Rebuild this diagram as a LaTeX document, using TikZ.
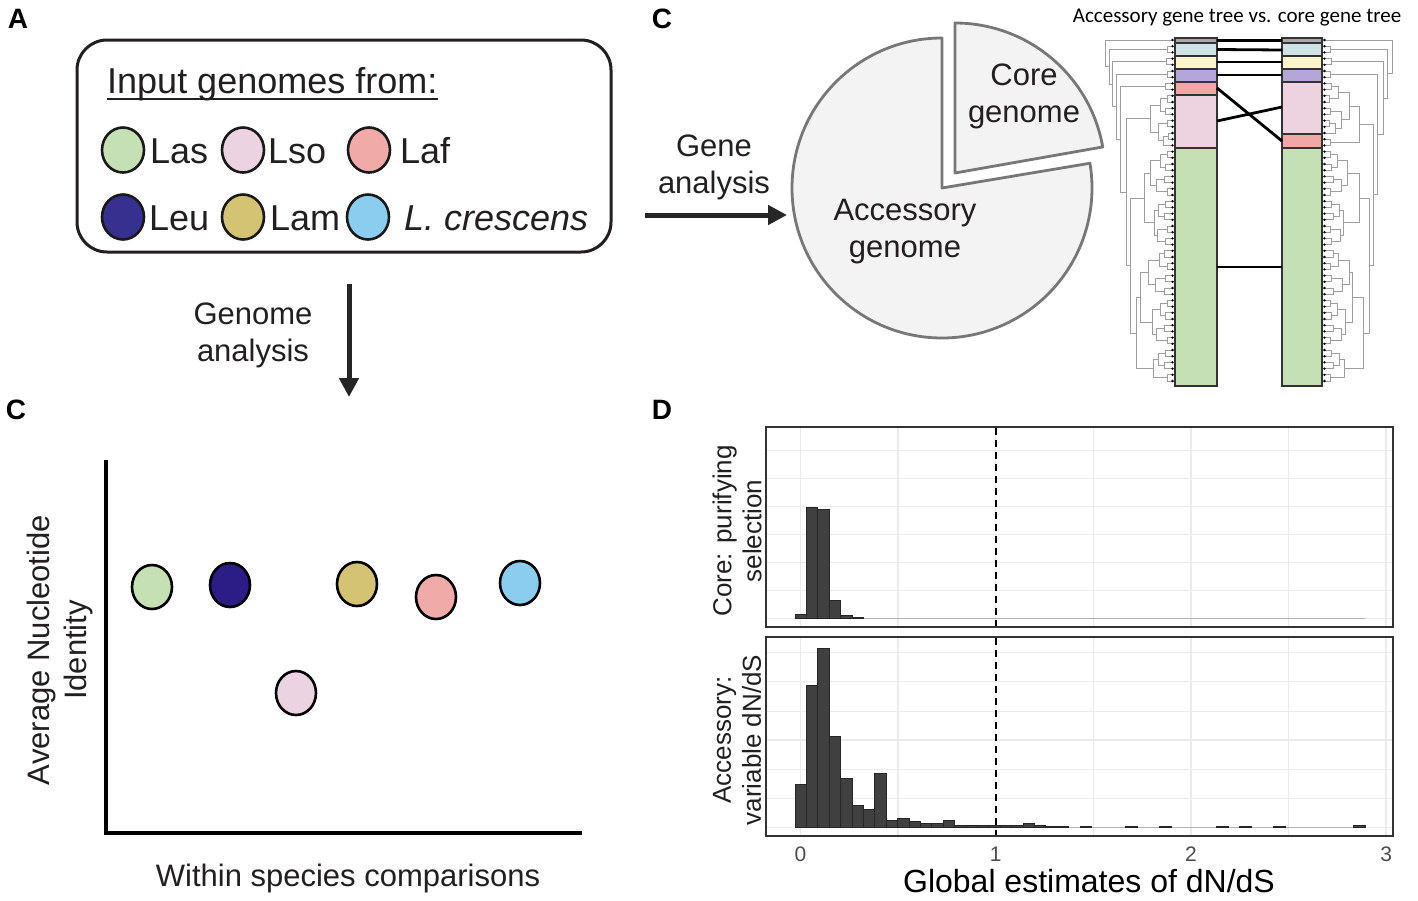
\documentclass[tikz,border=0pt]{standalone}
\usepackage{fontspec}
\setmainfont{Liberation Sans}
\newfontfamily\calfont{Carlito}
\usetikzlibrary{arrows.meta,shapes.geometric}
\definecolor{textc}{HTML}{231F20}
\definecolor{lasG}{HTML}{C5E0B4}
\definecolor{lsoP}{HTML}{EBD3E2}
\definecolor{lafR}{HTML}{F0AAA7}
\definecolor{leuB}{HTML}{36308E}
\definecolor{leuS}{HTML}{2C1C85}
\definecolor{lamY}{HTML}{D5C374}
\definecolor{lcrB}{HTML}{8ACDEE}
\definecolor{tgGray}{HTML}{A8A8A8}
\definecolor{tgBlue}{HTML}{CFE3E7}
\definecolor{tgYel}{HTML}{FCF4CC}
\definecolor{tgPur}{HTML}{B4A6D7}
\definecolor{tgRed}{HTML}{F1A7A6}
\definecolor{tgPink}{HTML}{EDD3E0}
\definecolor{pieF}{HTML}{F2F3F2}
\definecolor{pieS}{HTML}{777777}
\definecolor{gridc}{HTML}{EBEBEB}
\definecolor{barc}{HTML}{404040}
\definecolor{tickc}{HTML}{4D4D4D}
\newcommand{\tbr}[5]{\draw[treeline] (#3,#2) -- (#1,#2) -- (#1,#4) -- (#5,#4);}
\newcommand{\greenclade}[4]{%
  \foreach \k in {0,...,18}{%
    \pgfmathsetmacro{\ya}{151.6+12.4*\k}%
    \pgfmathsetmacro{\yb}{\ya+6.2}%
    \pgfmathsetmacro{\xv}{1167-mod(\k,3)*1.5}%
    \draw[treeline] (1174,\ya) -- (\xv,\ya) -- (\xv,\yb) -- (1174,\yb);
  }
  \foreach \q/\xq in {0/1160,1/1156,2/1158,3/1157,4/1159,5/1155,6/1160,7/1156,8/1158}{%
    \pgfmathsetmacro{\ya}{154.7+24.8*\q}%
    \pgfmathsetmacro{\yb}{\ya+12.4}%
    \pgfmathsetmacro{\xa}{1167-mod(2*\q,3)*1.5}%
    \pgfmathsetmacro{\xb}{1167-mod(2*\q+1,3)*1.5}%
    \draw[treeline] (\xa,\ya) -- (\xq,\ya) -- (\xq,\yb) -- (\xb,\yb);
  }
  \tbr{1150}{160.9}{1160}{185.7}{1156}
  \tbr{1154}{210.5}{1158}{235.3}{1157}
  \tbr{1148}{260.1}{1159}{284.9}{1155}
  \tbr{1152}{309.7}{1160}{334.5}{1156}
  \tbr{1153}{359.3}{1158}{377.9}{1167}
  \tbr{#1}{173.3}{1150}{222.9}{1154}
  \tbr{#2}{272.5}{1148}{322.1}{1152}
  \tbr{#3}{297.3}{#2}{368.6}{1153}
  \tbr{#4}{198.1}{#1}{332.95}{#3}
}
\tikzset{
  treeline/.style={draw=black!38, line width=0.9pt},
  lab/.style={text=textc, inner sep=0pt, font=\fontsize{31}{37}\selectfont},
  legtext/.style={text=textc, inner sep=0pt, anchor=base west, font=\fontsize{36}{43}\selectfont},
  legdot/.style={ellipse, draw=black!90, line width=2.6pt, minimum width=42pt, minimum height=45pt, inner sep=0pt},
  scdot/.style={ellipse, draw=black, line width=2.6pt, minimum width=40pt, minimum height=44pt, inner sep=0pt},
  plabel/.style={inner sep=0pt, font=\fontsize{28}{28}\selectfont\bfseries},
  bigarrow/.style={draw=black!85, line width=5pt, -{Triangle[length=19pt,width=19pt]}},
  piece/.style={fill=pieF, draw=pieS, line width=2.8pt, line join=round},
  seg/.style={draw=black!80, line width=1.3pt},
  tline/.style={draw=black, line width=2.8pt},
  grid/.style={draw=gridc, line width=1.3pt},
  bar/.style={fill=barc, draw=black!85, line width=0.5pt},
  basel/.style={draw=black!30, line width=1.2pt},
  frame/.style={draw=black!80, line width=1.6pt},
  vline/.style={draw=black, line width=1.8pt, dash pattern=on 7pt off 5pt},
  tick/.style={text=tickc, inner sep=0pt, font=\fontsize{21}{21}\selectfont},
  ylab/.style={text=textc, inner sep=0pt, rotate=90, align=center, font=\fontsize{26}{30}\selectfont},
}
\begin{document}
\begin{tikzpicture}[x=1pt,y=-1pt]
\useasboundingbox (0,0) rectangle (1418,900);
\fill[white] (0,0) rectangle (1418,900);

% ---------------- panel letters
\node[plabel] (pA) at (18,19) {A};
\node[plabel] (pC1) at (662,19) {C};
\node[plabel] (pC2) at (16,410) {C};
\node[plabel] (pD) at (662,410) {D};

% ---------------- panel A legend box
\draw[draw=textc, line width=3pt, rounded corners=30pt] (77,40) rectangle (611,252);
\node[legtext] (ttl) at (107,93) {Input genomes from:};
\draw[draw=textc, line width=2.6pt] ([yshift=-6pt]ttl.base west) -- ([yshift=-6pt]ttl.base east);
\node[legdot, fill=lasG] (gLas) at (123,150) {};
\node[legtext] (tLas) at (150,163) {Las};
\node[legdot, fill=lsoP] (gLso) at (243,150) {};
\node[legtext] (tLso) at (268,163) {Lso};
\node[legdot, fill=lafR] (gLaf) at (369,150) {};
\node[legtext] (tLaf) at (400,163) {Laf};
\node[legdot, fill=leuB] (gLeu) at (123,217) {};
\node[legtext] (tLeu) at (149,230) {Leu};
\node[legdot, fill=lamY] (gLam) at (243,217) {};
\node[legtext] (tLam) at (270,230) {Lam};
\node[legdot, fill=lcrB] (gLcr) at (368,217) {};
\node[legtext] (tLcr) at (404,230) {\itshape L. crescens};

% ---------------- arrows
\node[lab, align=center] (gAna) at (253,335) {Genome\\analysis};
\coordinate (dA1) at (349,284);
\coordinate (dA2) at (349,397);
\draw[bigarrow] (dA1) -- (dA2);
\node[lab, align=center] (geneAna) at (714,167) {Gene\\analysis};
\coordinate (rA1) at (645,215);
\coordinate (rA2) at (787,215);
\draw[bigarrow] (rA1) -- (rA2);

% ---------------- pie
\draw[piece] (942,188) -- (942,38) arc[start angle=90, end angle=369.5, radius=150pt] -- cycle;
\draw[piece] (955,173) -- (955,23) arc[start angle=90, end angle=10, radius=150pt] -- cycle;
\node[lab, align=center] (coreT) at (1024,96) {Core\\genome};
\node[lab, align=center] (accT) at (905,232) {Accessory\\genome};

% ---------------- tanglegram
\node[font=\calfont\fontsize{21}{21}\selectfont, inner sep=0pt] (tgTitle) at (1237,18) {Accessory gene tree vs. core gene tree};
% left tree
\tbr{1167}{46.2}{1174}{52.4}{1174}
\tbr{1166}{58.6}{1174}{64.8}{1174}
\tbr{1167}{71}{1174}{77.2}{1174}
\tbr{1165}{83.4}{1174}{89.6}{1174}
\tbr{1167}{95.8}{1174}{102}{1174}
\tbr{1165}{108.2}{1174}{114.4}{1174}
\tbr{1160}{98.9}{1167}{111.3}{1165}
\tbr{1167}{120.6}{1174}{126.8}{1174}
\tbr{1168}{133}{1174}{139.2}{1174}
\tbr{1163}{136.1}{1168}{145.4}{1174}
\tbr{1158}{123.7}{1167}{140.75}{1163}
\tbr{1150}{105.1}{1160}{132.225}{1158}
\greenclade{1144}{1140}{1136}{1130}
\tbr{1126}{118.66}{1150}{265.525}{1130}
\tbr{1120}{86.5}{1165}{192.09}{1126}
\tbr{1116}{74.1}{1167}{139.3}{1120}
\tbr{1112}{61.7}{1166}{106.7}{1116}
\tbr{1109}{49.3}{1167}{84.2}{1112}
\tbr{1105}{40}{1174}{66.75}{1109}
\foreach \i in {0,...,55} \fill (1172.5,{40+6.2*\i}) circle (1.3pt);
% right tree (mirrored)
\begin{scope}[shift={(2497,0)}, xscale=-1]
\tbr{1167}{46.2}{1174}{52.4}{1174}
\tbr{1166}{58.6}{1174}{64.8}{1174}
\tbr{1167}{71}{1174}{77.2}{1174}
\tbr{1166}{83.4}{1174}{89.6}{1174}
\tbr{1168}{95.8}{1174}{102}{1174}
\tbr{1159}{86.5}{1166}{98.9}{1168}
\tbr{1167}{108.2}{1174}{114.4}{1174}
\tbr{1168}{120.6}{1174}{126.8}{1174}
\tbr{1162}{123.7}{1168}{133}{1174}
\tbr{1156}{111.3}{1167}{128.35}{1162}
\tbr{1148}{92.7}{1159}{119.825}{1156}
\tbr{1167}{139.2}{1174}{145.4}{1174}
\tbr{1138}{106.26}{1148}{142.3}{1167}
\greenclade{1138}{1145}{1134}{1128}
\tbr{1124}{124.28}{1138}{265.525}{1128}
\tbr{1120}{74.1}{1167}{194.9}{1124}
\tbr{1114}{61.7}{1166}{134.5}{1120}
\tbr{1110}{49.3}{1167}{98.1}{1114}
\tbr{1105}{40}{1174}{73.7}{1110}
\foreach \i in {0,...,55} \fill (1172.5,{40+6.2*\i}) circle (1.3pt);
\end{scope}
% bars
\filldraw[seg, fill=tgGray] (1175,38) rectangle (1217,43);
\filldraw[seg, fill=tgBlue] (1175,43) rectangle (1217,56);
\filldraw[seg, fill=tgYel] (1175,56) rectangle (1217,69);
\filldraw[seg, fill=tgPur] (1175,69) rectangle (1217,82);
\filldraw[seg, fill=tgRed] (1175,82) rectangle (1217,95);
\filldraw[seg, fill=tgPink] (1175,95) rectangle (1217,148);
\filldraw[seg, fill=lasG] (1175,148) rectangle (1217,386);
\filldraw[seg, fill=tgGray] (1282,38) rectangle (1322,43);
\filldraw[seg, fill=tgBlue] (1282,43) rectangle (1322,56);
\filldraw[seg, fill=tgYel] (1282,56) rectangle (1322,69);
\filldraw[seg, fill=tgPur] (1282,69) rectangle (1322,82);
\filldraw[seg, fill=tgPink] (1282,82) rectangle (1322,134);
\filldraw[seg, fill=tgRed] (1282,134) rectangle (1322,148);
\filldraw[seg, fill=lasG] (1282,148) rectangle (1322,386);
% connectors
\coordinate (Lgr) at (1217,40.5); \coordinate (Rgr) at (1282,40.5);
\coordinate (Llb) at (1217,49.5); \coordinate (Rlb) at (1282,50);
\coordinate (Lye) at (1217,62); \coordinate (Rye) at (1282,62);
\coordinate (Lpu) at (1217,75); \coordinate (Rpu) at (1282,75);
\coordinate (Lre) at (1217,88); \coordinate (Rre) at (1282,141);
\coordinate (Lpk) at (1217,121); \coordinate (Rpk) at (1282,107);
\coordinate (Lgn) at (1217,267); \coordinate (Rgn) at (1282,267);
\draw[tline] (Lgr) -- (Rgr);
\draw[tline] (Llb) -- (Rlb);
\draw[tline] (Lye) -- (Rye);
\draw[tline] (Lpu) -- (Rpu);
\draw[tline] (Lre) -- (Rre);
\draw[tline] (Lpk) -- (Rpk);
\draw[tline] (Lgn) -- (Rgn);

% ---------------- scatter panel
\coordinate (yTop) at (106,460);
\coordinate (org) at (106,833);
\coordinate (xEnd) at (582,833);
\draw[line width=4pt, draw=black] (yTop) -- (org) -- (xEnd);
\node[scdot, fill=lasG] (sLas) at (152,587) {};
\node[scdot, fill=leuS] (sLeu) at (230,585) {};
\node[scdot, fill=lsoP] (sLso) at (296,693) {};
\node[scdot, fill=lamY] (sLam) at (357,584) {};
\node[scdot, fill=lafR] (sLaf) at (436,597) {};
\node[scdot, fill=lcrB] (sLcr) at (520,583) {};
\node[lab, rotate=90, align=center] (yAni) at (60,650) {Average Nucleotide\\Identity};
\node[lab] (xWsc) at (348,878) {Within species comparisons};

% ---------------- histograms
% top panel
\fill[white] (766,427) rectangle (1393,627);
\foreach \v in {0,0.5,1,1.5,2,2.5,3} \draw[grid] ({800.5+195.2*\v},428) -- ({800.5+195.2*\v},626);
\foreach \yy in {450.3,478.5,506.7,534.3,562.5,590.4,618.3} \draw[grid] (767,\yy) -- (1392,\yy);
\draw[basel] (860,618.3) -- (1365,618.3);
\foreach \j/\h in {0/4.3,1/110.6,2/109.2,3/17.6,4/3,5/0.8}
  \filldraw[bar] ({794.8+11.4*\j},618.3) rectangle ({806.2+11.4*\j},{618.3-\h});
\draw[vline] (995.7,428) -- (995.7,626);
\draw[frame] (766,427) rectangle (1393,627);
% bottom panel
\fill[white] (766,637) rectangle (1393,836);
\foreach \v in {0,0.5,1,1.5,2,2.5,3} \draw[grid] ({800.5+195.2*\v},638) -- ({800.5+195.2*\v},835);
\foreach \yy in {652.6,681.7,711.2,740,769.4,798.2,827.3} \draw[grid] (767,\yy) -- (1392,\yy);
\draw[basel] (960,827.3) -- (1365,827.3);
\foreach \j/\h in {0/42.6,1/141.6,2/179,3/91.1,4/49.5,5/21.8,6/18.5,7/54.5,8/7.3,9/9.2,10/5.6,11/4.3,12/3.6,13/6.6,14/1.6,15/1.6,16/1.6,17/1.6,18/1.6,19/2.3,20/3.6,21/1.6,22/1,23/0.8,25/1.2,29/1.2,32/1.2,37/1.2,39/1.2,42/1.2,49/2}
  \filldraw[bar] ({794.8+11.4*\j},827.3) rectangle ({806.2+11.4*\j},{827.3-\h});
\draw[vline] (995.7,638) -- (995.7,835);
\draw[frame] (766,637) rectangle (1393,836);
% ticks and labels
\node[tick] (t0) at (800.5,854) {0};
\node[tick] (t1) at (995.7,854) {1};
\node[tick] (t2) at (1190.9,854) {2};
\node[tick] (t3) at (1386.1,854) {3};
\node[text=black, inner sep=0pt, font=\fontsize{32}{32}\selectfont] (xGlob) at (1089,881) {Global estimates of dN/dS};
\node[ylab] (yCore) at (737,531) {Core: purifying\\selection};
\node[ylab] (yAcc) at (737,740) {Accessory:\\variable dN/dS};
\end{tikzpicture}
\end{document}
